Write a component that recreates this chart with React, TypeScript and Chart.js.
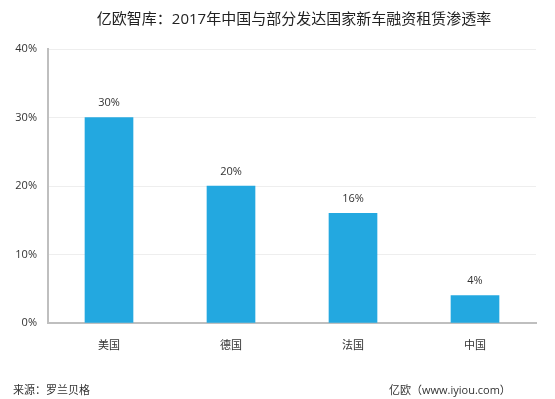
import React, { useEffect, useRef } from "react";
import { Chart, registerables } from "chart.js";

Chart.register(...registerables);

const categories = ["美国", "德国", "法国", "中国"];
const penetration = [30, 20, 16, 4];
const yTicks = [0, 10, 20, 30, 40];
const titleText = "亿欧智库：2017年中国与部分发达国家新车融资租赁渗透率";
const sourceText = "来源：罗兰贝格";
const brandText = "亿欧（www.iyiou.com）";

const FONT = "'Open Sans', 'Noto Sans CJK SC', sans-serif";

const textPlugin = {
  id: "texts",
  afterDatasetsDraw(chart: any) {
    const ctx = chart.ctx;
    ctx.save();
    // data labels
    const meta = chart.getDatasetMeta(0);
    ctx.fillStyle = "#333";
    ctx.font = `11px ${FONT}`;
    ctx.textAlign = "center";
    ctx.textBaseline = "bottom";
    meta.data.forEach((bar: any, i: number) => {
      ctx.fillText(penetration[i] + "%", bar.x, bar.y - 9);
    });
    // title
    ctx.fillStyle = "#222";
    ctx.font = `15px ${FONT}`;
    ctx.textBaseline = "middle";
    ctx.textAlign = "center";
    ctx.fillText(titleText, 294, 20);
    // footer
    ctx.fillStyle = "#333";
    ctx.font = `11px ${FONT}`;
    ctx.textAlign = "left";
    ctx.fillText(sourceText, 13, 391);
    ctx.fillText(brandText, 389, 391);
    ctx.restore();
  },
};

export default function App() {
  const ref = useRef<HTMLCanvasElement>(null);
  useEffect(() => {
    document.body.style.margin = "0";
    const chart = new Chart(ref.current!, {
      type: "bar",
      data: {
        labels: categories,
        datasets: [
          {
            data: penetration,
            backgroundColor: "#23a8e0",
            barThickness: 48,
          },
        ],
      },
      options: {
        responsive: false,
        animation: false,
        layout: { padding: { left: 0, right: 19, top: 49, bottom: 0 } },
        plugins: { legend: { display: false }, tooltip: { enabled: false } },
        scales: {
          x: {
            grid: { display: false },
            border: { color: "#bfbfbf", width: 2 },
            ticks: { color: "#333", font: { size: 11, family: FONT }, padding: 8 },
            afterFit: (s: any) => {
              s.height = 76;
            },
          },
          y: {
            min: 0,
            max: 40,
            afterBuildTicks: (s: any) => {
              s.ticks = yTicks.map((v) => ({ value: v }));
            },
            grid: { color: "#eeeeee", drawTicks: false },
            border: { color: "#bfbfbf", width: 2 },
            ticks: {
              color: "#333",
              font: { size: 11, family: FONT },
              padding: 11,
              callback: (v: any) => v + "%",
            },
            afterFit: (s: any) => {
              s.width = 48;
            },
          },
        },
      },
      plugins: [textPlugin],
    });
    return () => chart.destroy();
  }, []);
  return <canvas ref={ref} width={555} height={399} style={{ display: "block" }} />;
}
